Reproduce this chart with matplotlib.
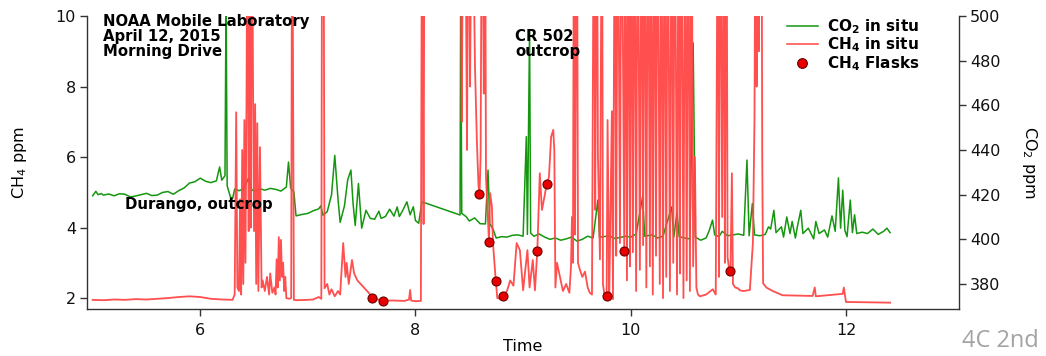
import numpy as np
import matplotlib
matplotlib.use("Agg")
import matplotlib.pyplot as plt
from matplotlib.lines import Line2D

plt.rcParams['font.family'] = ['DejaVu Sans']
plt.rcParams['mathtext.default'] = 'regular'

nan = float('nan')

# CO2 in situ (ppm)
co2_time = [
    5.00, 5.03, 5.05, 5.08, 5.10, 5.15, 5.20, 5.25, 5.30, 5.35,
    5.40, 5.45, 5.50, 5.55, 5.60, 5.65, 5.70, 5.75, 5.80, 5.85,
    5.90, 5.95, 6.00, 6.05, 6.10, 6.15, 6.18, 6.20, 6.23, 6.24,
    6.25, 6.28, 6.30, 6.32, 6.36, 6.40, 6.45, 6.48, 6.52, 6.56,
    6.60, 6.65, 6.70, 6.75, 6.80, 6.82, 6.84, 6.87, 6.89, 6.95,
    7.00, 7.05, 7.10, 7.12, 7.14, 7.18, 7.22, 7.25, 7.28, 7.30,
    7.34, 7.37, 7.40, 7.42, 7.44, 7.47, 7.50, 7.54, 7.58, 7.62,
    7.66, 7.68, 7.72, 7.76, 7.80, 7.83, 7.85, 7.88, 7.92, 7.95,
    7.98, 8.00, 8.03, 8.06, 8.414, 8.42, 8.43, 8.47, 8.50, 8.55,
    8.60, 8.65, 8.674, 8.69, 8.72, 8.75, 8.80, 8.85, 8.90, 8.95,
    9.00, 9.03, 9.04, 9.06, 9.07, 9.10, 9.15, 9.20, 9.25, 9.30,
    9.35, 9.40, 9.45, 9.50, 9.55, 9.60, 9.65, 9.695, 9.71, 9.75,
    9.80, 9.85, 9.90, 9.95, 10.00, 10.05, 10.11, 10.13, 10.20, 10.25,
    10.30, 10.38, 10.40, 10.43, 10.45, 10.50, 10.55, 10.58, 10.60, 10.65,
    10.70, 10.73, 10.76, 10.78, 10.82, 10.85, 10.90, 10.95, 11.00, 11.05,
    11.08, 11.10, 11.13, 11.15, 11.20, 11.25, 11.28, 11.30, 11.33, 11.35,
    11.40, 11.42, 11.45, 11.48, 11.50, 11.53, 11.55, 11.58, 11.60, 11.65,
    11.70, 11.72, 11.75, 11.80, 11.83, 11.87, 11.90, 11.93, 11.95, 11.97,
    11.99, 12.01, 12.04, 12.06, 12.08, 12.10, 12.15, 12.20, 12.25, 12.30,
    12.35, 12.38, 12.41,
]
co2_ppm = [
    419.5, 421.5, 420.0, 420.5, 419.8, 420.3, 419.5, 420.4, 420.2, 419.0,
    419.4, 420.0, 420.6, 419.6, 419.8, 421.0, 421.4, 420.2, 421.8, 423.0,
    425.2, 425.8, 427.4, 426.0, 425.4, 426.2, 432.4, 426.5, 428.5, 510.0,
    424.0, 419.0, 418.2, 422.5, 421.8, 422.4, 427.5, 422.0, 421.6, 422.6,
    422.0, 422.8, 422.4, 421.6, 423.4, 434.6, 423.0, 421.2, 410.5, 411.2,
    411.6, 412.8, 413.6, 415.0, 410.8, 412.4, 420.0, 437.6, 418.0, 407.6,
    415.0, 426.6, 431.0, 416.0, 406.2, 425.0, 405.0, 413.0, 409.4, 409.0,
    412.6, 409.4, 410.2, 413.5, 410.4, 414.5, 410.2, 412.8, 416.8, 411.0,
    414.6, 408.4, 407.2, 416.8, 410.9, 510.0, 411.6, 410.2, 408.2, 409.6,
    407.0, 406.9, 431.0, 407.0, 404.6, 400.6, 401.2, 401.0, 401.8, 402.0,
    401.4, 446.0, 402.2, 493.6, 402.8, 401.4, 402.4, 401.0, 400.0, 400.6,
    399.6, 400.2, 401.0, 399.2, 400.0, 401.4, 400.6, 417.6, 401.0, 401.2,
    401.6, 400.4, 400.8, 401.4, 401.0, 402.4, 419.0, 401.4, 402.0, 400.6,
    401.4, 414.5, 401.0, 412.0, 401.2, 400.6, 400.2, 488.0, 401.0, 399.6,
    400.6, 404.0, 408.6, 402.0, 401.2, 403.6, 401.6, 402.0, 402.4, 401.8,
    435.5, 401.6, 416.0, 402.0, 401.6, 402.2, 405.6, 404.6, 413.0, 403.0,
    405.6, 401.0, 410.0, 402.6, 408.0, 400.6, 406.0, 413.0, 402.6, 405.0,
    400.2, 408.0, 402.6, 404.2, 401.0, 410.5, 403.6, 427.5, 405.0, 422.0,
    404.0, 401.2, 417.6, 403.0, 411.0, 402.6, 403.2, 402.6, 404.6, 402.2,
    403.6, 405.0, 403.0,
]

# CH4 in situ (ppm), left axis; 15 = off scale, nan = data gap
ch4_time = [
    5.00, 5.10, 5.20, 5.30, 5.40, 5.50, 5.60, 5.70, 5.80, 5.90,
    6.00, 6.10, 6.20, 6.30, 6.32, 6.334, 6.345, 6.36, 6.37, 6.38,
    6.39, 6.40, 6.41, 6.42, 6.43, 6.44, 6.45, 6.46, 6.47, 6.48,
    6.49, 6.50, 6.51, 6.52, 6.53, 6.54, 6.555, 6.57, 6.58, 6.60,
    6.62, 6.64, 6.65, 6.67, 6.69, 6.70, 6.71, 6.72, 6.73, 6.74,
    6.75, 6.76, 6.77, 6.78, 6.79, 6.80, 6.83, 6.845, 6.854, 6.87,
    6.90, 7.00, 7.05, 7.10, 7.125, 7.133, 7.145, 7.155, 7.18, 7.20,
    7.22, 7.25, 7.28, 7.30, 7.328, 7.35, 7.36, 7.38, 7.41, 7.43,
    7.46, 7.49, 7.52, 7.55, 7.58, 7.60, 7.65, 7.70, 7.80, 7.90,
    7.94, 7.95, 7.96, 8.00, 8.05, 8.061, 8.075, 8.085, 8.25, 8.414,
    8.43, 8.445, 8.46, 8.479, 8.49, 8.507, 8.525, 8.553, 8.57, 8.585,
    8.595, 8.605, 8.618, 8.635, 8.646, 8.655, 8.665, 8.683, 8.693, 8.71,
    8.72, 8.746, 8.752, 8.76, 8.786, 8.811, 8.85, 8.88, 8.91, 8.94,
    8.97, 8.99, 9.00, 9.04, 9.06, 9.09, 9.11, 9.132, 9.155, 9.175,
    9.20, 9.219, 9.24, 9.26, 9.28, 9.29, 9.30, 9.315, 9.343, 9.37,
    9.40, 9.43, 9.445, 9.454, 9.463, 9.473, 9.482, 9.50, 9.51, 9.528,
    9.55, 9.575, 9.60, 9.62, 9.64, 9.658, 9.67, 9.686, 9.695, 9.714,
    9.733, 9.742, 9.76, 9.776, 9.785, 9.80, 9.807, 9.825, 9.835, 9.853,
    9.865, 9.88, 9.90, 9.915, 9.94, 9.95, 9.965, 9.98, 9.993, 10.005,
    10.02, 10.035, 10.05, 10.065, 10.085, 10.10, 10.115, 10.13, 10.145, 10.16,
    10.178, 10.19, 10.205, 10.22, 10.235, 10.25, 10.27, 10.285, 10.30, 10.315,
    10.33, 10.345, 10.364, 10.38, 10.395, 10.41, 10.43, 10.445, 10.457, 10.47,
    10.49, 10.505, 10.52, 10.535, 10.55, 10.565, 10.58, 10.596, 10.61, 10.625,
    10.643, 10.70, 10.763, 10.79, 10.81, 10.82, 10.83, 10.85, 10.865, 10.875,
    10.89, 10.90, 10.915, 10.927, 10.94, 10.95, 10.97, 10.995, 11.014, 11.05,
    11.107, 11.135, 11.15, 11.16, 11.17, 11.18, 11.19, 11.20, 11.215, 11.222,
    11.23, 11.26, 11.32, 11.41, 11.57, 11.69, 11.71, 11.72, 11.97, 11.98,
    12.00, 12.21, 12.41,
]
ch4_ppm = [
    1.95, 1.94, 1.96, 1.95, 1.97, 1.96, 1.98, 2.00, 2.03, 2.05,
    2.03, 1.98, 1.96, 1.95, 2.10, 7.27, 2.30, 2.20, 4.80, 2.10,
    6.20, 2.40, 7.05, 3.00, 7.60, 15, 3.90, 15, 4.00, 15,
    8.27, 3.90, 7.50, 2.40, 6.96, 2.20, 6.28, 2.30, 2.50, 2.20,
    2.60, 2.10, 2.70, 2.15, 2.30, 2.10, 3.10, 2.30, 3.73, 2.50,
    3.65, 2.60, 3.00, 2.20, 2.60, 2.00, 1.98, 2.00, 15, 1.95,
    1.94, 1.95, 1.96, 2.03, 1.98, 15, 15, 2.28, 2.40, 2.10,
    2.25, 2.05, 2.20, 2.10, 3.56, 2.60, 3.00, 2.40, 3.08, 2.70,
    2.50, 2.40, 2.30, 2.20, 2.10, 2.02, 1.96, 1.93, 1.93, 1.92,
    1.96, 2.23, 1.93, 1.91, 1.92, 15, 4.10, 15, nan, 15,
    7.00, 15, 15, 6.20, 15, 8.00, 15, 8.55, 6.50, 5.20,
    4.95, 6.00, 15, 7.80, 15, 5.43, 4.78, 3.59, 4.98, 4.60,
    3.56, 2.49, 2.30, 2.00, 1.98, 2.06, 2.20, 2.50, 2.35, 3.56,
    3.36, 2.60, 2.22, 3.36, 2.30, 3.08, 2.22, 3.34, 5.54, 4.50,
    4.90, 5.23, 5.43, 6.57, 6.77, 6.20, 2.30, 3.00, 2.60, 2.20,
    2.40, 2.15, 2.90, 4.30, 3.00, 15, 3.80, 15, 3.00, 2.80,
    2.60, 2.75, 2.30, 2.15, 2.10, 15, 4.50, 15, 6.10, 3.10,
    15, 2.40, 2.00, 2.07, 7.05, 2.00, 3.40, 7.30, 1.97, 15,
    3.20, 15, 3.56, 15, 3.34, 15, 2.50, 15, 2.90, 15,
    3.30, 15, 2.20, 15, 2.80, 15, 3.50, 15, 2.30, 15,
    2.90, 15, 2.10, 15, 3.20, 15, 2.40, 15, 2.00, 15,
    2.60, 15, 2.20, 15, 3.00, 15, 2.10, 15, 2.70, 15,
    2.00, 15, 2.50, 15, 2.20, 15, 2.90, 6.00, 2.30, 2.10,
    2.05, 2.10, 2.25, 2.10, 15, 2.60, 15, 4.30, 15, 3.00,
    15, 3.16, 2.80, 2.77, 5.54, 2.40, 2.30, 2.28, 2.22, 2.20,
    2.23, 3.56, 7.05, 15, 8.00, 15, 9.00, 15, 15, 6.00,
    2.42, 2.30, 2.20, 2.08, 2.07, 2.06, 2.30, 2.05, 2.12, 2.30,
    1.89, 1.88, 1.87,
]

# CH4 flask samples
flask_time = [7.60, 7.70, 8.59, 8.683, 8.746, 8.811, 9.132, 9.219, 9.776, 9.94, 10.927]
flask_ch4 = [2.01, 1.91, 4.95, 3.59, 2.49, 2.06, 3.34, 5.23, 2.07, 3.34, 2.77]

green = '#15960f'
red = '#ff4545'

fig = plt.figure(figsize=(10.46, 3.56), dpi=100)
ax = fig.add_axes([0.0832, 0.132, 0.8336, 0.823])
ax2 = ax.twinx()
# methane on top of CO2
ax.set_zorder(ax2.get_zorder() + 1)
ax.patch.set_visible(False)

ax2.plot(co2_time, co2_ppm, color=green, lw=1.1)
ax.plot(ch4_time, ch4_ppm, color=red, lw=1.3, alpha=0.95)
ax.plot(flask_time, flask_ch4, ls='none', marker='o', ms=6.5,
        mfc='#e80000', mec='#6a0000', mew=0.8)

ax.set_xlim(4.948, 13.05)
ax.set_ylim(1.69, 10)
ax2.set_ylim(368.8, 500)
ax.set_xticks([6, 8, 10, 12])
ax.set_yticks([2, 4, 6, 8, 10])
ax2.set_yticks([380, 400, 420, 440, 460, 480, 500])

for s in ['top', 'right']:
    ax.spines[s].set_visible(False)
for s in ['top', 'left', 'bottom']:
    ax2.spines[s].set_visible(False)
for a in (ax, ax2):
    for s in a.spines.values():
        s.set_color('#333333')
        s.set_linewidth(1.0)
    a.tick_params(direction='out', length=5, width=1, color='#333333',
                  labelsize=11.5, labelcolor='#111111', pad=3)
ax.tick_params(axis='x', pad=5)

ax.set_xlabel('Time', fontsize=11.5, labelpad=1)
ax.set_ylabel('CH$_4$ ppm', fontsize=11.5, labelpad=19)
ax2.set_ylabel('CO$_2$ ppm', fontsize=11.5, rotation=270, labelpad=28)

ax.text(5.10, 10.06, 'NOAA Mobile Laboratory\nApril 12, 2015\nMorning Drive',
        fontsize=10.7, fontweight='bold', va='top', linespacing=1.0)
ax.text(5.30, 4.64, 'Durango, outcrop', fontsize=10.7, fontweight='bold', va='center')
ax.text(8.925, 9.62, 'CR 502\noutcrop', fontsize=10.7, fontweight='bold', va='top',
        linespacing=1.0)

handles = [
    Line2D([], [], color=green, lw=1.1, label='CO$_2$ in situ'),
    Line2D([], [], color=red, lw=1.1, label='CH$_4$ in situ'),
    Line2D([], [], ls='none', marker='o', ms=7, mfc='#e80000', mec='#6a0000',
           mew=0.8, label='CH$_4$ Flasks'),
]
ax.legend(handles=handles, loc='upper left', bbox_to_anchor=(0.803, 0.997),
          frameon=False, prop={'weight': 'bold', 'size': 11},
          handlelength=2.0, handletextpad=0.6, labelspacing=0.0,
          borderaxespad=0, borderpad=0)

fig.text(0.92, 0.025, '4C 2nd', color='#a3a3a3', fontsize=17, family='Open Sans')

fig.savefig('out.png', dpi=100)
